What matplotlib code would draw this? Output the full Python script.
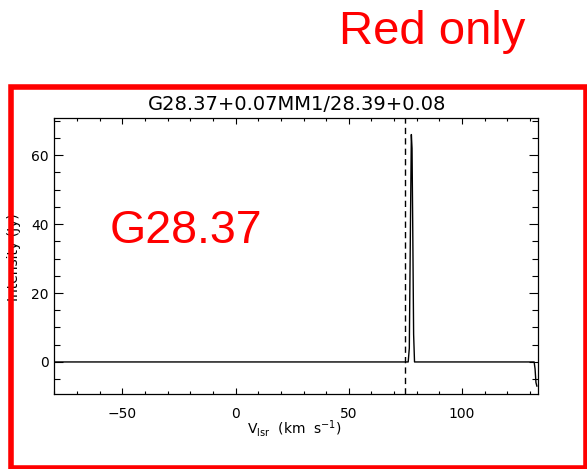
import matplotlib
matplotlib.use("Agg")
import matplotlib.pyplot as plt
from matplotlib.patches import Rectangle
from matplotlib.ticker import MultipleLocator

# Spectrum
velocity = [-80.0, 70.0, 76.2, 76.7, 77.2, 77.6, 77.9, 78.2, 78.6, 79.0, 131.8, 132.2, 132.6, 133.0]
intensity = [0.0, 0.0, 0.0, 4.0, 40.0, 66.0, 62.0, 40.0, 8.0, 0.0, 0.0, -2.0, -6.0, -7.0]
v_ref = 75.0
title = "G28.37+0.07MM1/28.39+0.08"
xlim = (-80, 133.5)
ylim = (-9.3, 70.8)

plt.rcParams['font.family'] = ['DejaVu Sans']
plt.rcParams['mathtext.fontset'] = 'dejavusans'

W, H = 587, 469
fig = plt.figure(figsize=(W / 100, H / 100), dpi=100)
ax = fig.add_axes([54.3 / W, 1 - 394 / H, (538 - 54.3) / W, (394 - 118) / H])

ax.plot(velocity, intensity, color='black', lw=1.0)
ax.axvline(v_ref, color='black', lw=1.0, linestyle=(0, (4.5, 3)))
ax.set_xlim(*xlim)
ax.set_ylim(*ylim)
ax.xaxis.set_major_locator(MultipleLocator(50))
ax.xaxis.set_minor_locator(MultipleLocator(10))
ax.yaxis.set_major_locator(MultipleLocator(20))
ax.yaxis.set_minor_locator(MultipleLocator(5))
ax.tick_params(which='both', direction='in', top=True, right=True, width=0.8, labelsize=10)
ax.tick_params(axis='x', which='major', length=4.2, pad=9.5)
ax.tick_params(axis='x', which='minor', length=2.0)
ax.tick_params(axis='y', which='major', length=6.5, pad=4)
ax.tick_params(axis='y', which='minor', length=4.0)
for s in ax.spines.values():
    s.set_linewidth(0.9)

fig.text(297.5 / W, 1 - 109.7 / H, title, ha='center', va='baseline', fontsize=14)
fig.text(294 / W, 1 - 434 / H, r"V$_{\rm lsr}$  (km  s$^{-1}$)", ha='center', va='baseline', fontsize=10)
fig.text(14 / W, 1 - 257 / H, "Intensity (Jy)", ha='center', va='center', rotation=90, fontsize=10)

# Red annotations
fig.text(339 / W, 1 - 44.3 / H, "Red only", color='red', fontsize=34,
         family='Liberation Sans', ha='left', va='baseline')
fig.text(110 / W, 1 - 243.3 / H, "G28.37", color='red', fontsize=33.5,
         family='Liberation Sans', ha='left', va='baseline')
fig.patches.append(Rectangle((10.7 / W, 1 - 467.5 / H), (585.5 - 10.7) / W, (467.5 - 87) / H,
                             transform=fig.transFigure, fill=False, edgecolor='red', lw=4.0,
                             zorder=10))

fig.savefig("out.png", dpi=100)
